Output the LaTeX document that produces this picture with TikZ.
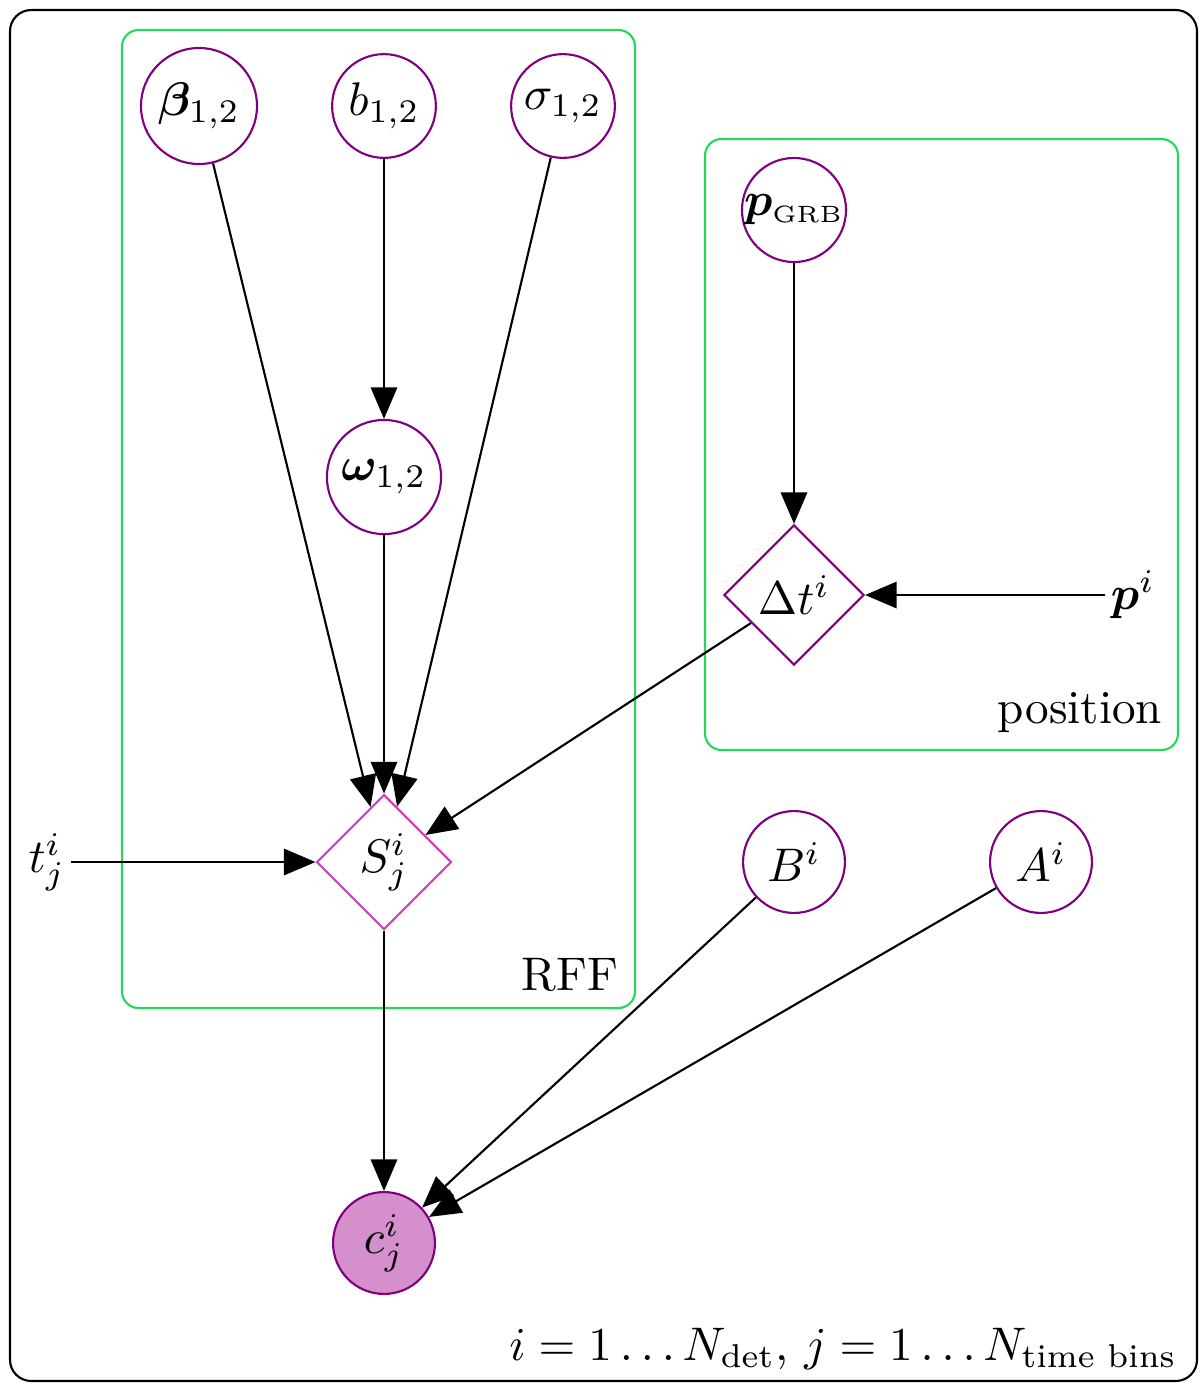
\documentclass[tikz,border=0pt]{standalone}
\usepackage{amsmath,bm}
\usetikzlibrary{shapes.geometric,arrows.meta}
\definecolor{plategreen}{RGB}{40,215,90}
\definecolor{latpurple}{RGB}{128,0,128}
\definecolor{detmag}{RGB}{200,70,190}
\definecolor{obsfill}{RGB}{214,143,205}
\tikzset{
  latent/.style={circle,draw=latpurple,line width=0.45pt,minimum size=22pt,inner sep=0pt},
  detnode/.style={diamond,draw=#1,line width=0.45pt,inner sep=0pt,aspect=1},
  obs/.style={latent,fill=obsfill},
  plate/.style={draw=plategreen,line width=0.45pt,rounded corners=3.5pt},
  outerplate/.style={draw=black,line width=0.45pt,rounded corners=4.5pt},
  edge/.style={-{Triangle[length=6.7pt,width=5.6pt]},line width=0.45pt},
  plain/.style={inner sep=1pt}
}
\begin{document}
\begin{tikzpicture}[x=0.212pt,y=-0.212pt]
\useasboundingbox (0,0) rectangle (1200,1391);
% plates
\draw[outerplate] (10,10) rectangle (1197,1381);
\draw[plate] (122,30) rectangle (635,1008);
\draw[plate] (705,139) rectangle (1178,750);
% nodes
\node[latent,minimum size=24.6pt] (beta) at (199,106) {$\boldsymbol{\beta}_{1,2}$};
\node[latent] (b) at (384,106) {$b_{1,2}$};
\node[latent] (sigma) at (563,106) {$\sigma_{1,2}$};
\node[latent,minimum size=24.2pt] (omega) at (384,477) {$\boldsymbol{\omega}_{1,2}$};
\node[latent] (pgrb) at (794,210) {$\boldsymbol{p}_{\mathrm{\scriptscriptstyle GRB}}$};
\node[detnode=latpurple,minimum size=29.7pt] (dt) at (794,595) {$\Delta t^i$};
\node[plain] (pi) at (1133,595) {$\boldsymbol{p}^i$};
\node[detnode=detmag,minimum size=28.6pt] (S) at (384,862) {$S^i_j$};
\node[plain] (t) at (47,862) {$t^i_j$};
\node[latent,minimum size=21.6pt] (B) at (794,862) {$B^i$};
\node[latent,minimum size=21.6pt] (A) at (1041,862) {$A^i$};
\node[obs,minimum size=21.6pt] (c) at (384,1243) {$c^i_j$};
% labels
\node[anchor=base east,inner sep=0pt] (rfflab) at (619,990) {RFF};
\node[anchor=base east,inner sep=0pt] (poslab) at (1163,723) {position};
\node[anchor=base east,inner sep=0pt] (idxlab) at (1178,1360) {$i=1\ldots N_{\mathrm{det}}$, $j=1\ldots N_{\text{time bins}}$};
% edges
\draw[edge] (beta) -- (S);
\draw[edge] (b) -- (omega);
\draw[edge] (omega) -- (S);
\draw[edge] (sigma) -- (S);
\draw[edge] (pgrb) -- (dt);
\draw[edge] (pi) -- (dt);
\draw[edge] (dt) -- (S);
\draw[edge] (t) -- (S);
\draw[edge] (S) -- (c);
\draw[edge] (B) -- (c);
\draw[edge] (A) -- (c);
\end{tikzpicture}
\end{document}
